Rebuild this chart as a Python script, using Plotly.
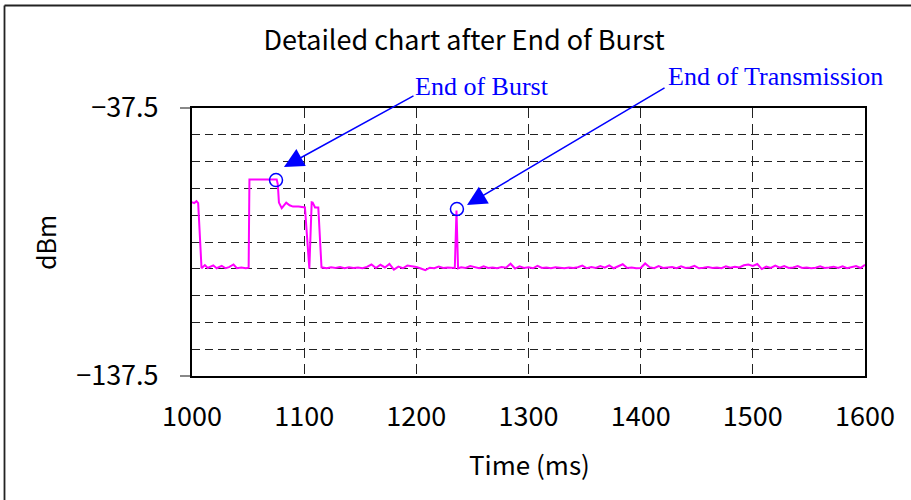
import plotly.graph_objects as go

# ---- data ----
burst_time = [1000, 1002, 1004, 1005.5, 1008.5, 1011.5, 1014, 1019, 1022, 1026.5, 1030, 1033, 1037, 1040,
              1044, 1048, 1050.5, 1051.2, 1060, 1070, 1075.5, 1076.5, 1077.5, 1080, 1084, 1087, 1090,
              1095, 1100.7, 1104.6, 1106.7, 1107.6, 1109.7, 1112.6, 1115.5]
burst_dbm = [-72.6, -73.0, -72.3, -73.0, -97.3, -96.1, -97.2, -96.2, -97.3, -96.4, -97.3, -96.9, -95.9, -97.3,
             -97.0, -97.3, -97.1, -64.2, -64.2, -64.2, -64.2, -66.0, -72.8, -74.9, -72.8, -73.8, -74.3,
             -74.3, -74.6, -97.5, -72.7, -72.8, -74.6, -74.6, -97.3]

floor1_time = list(range(1116, 1233, 4))
floor1_dbm = [-97.0, -97.3, -96.9, -97.2, -96.8, -97.3, -96.9, -97.2, -97.0, -97.3,
              -96.8, -95.9, -97.2, -96.0, -97.0, -95.7, -97.8, -96.7, -97.3, -96.3,
              -96.5, -96.8, -97.4, -98.0, -97.1, -97.3, -96.7, -97.2, -97.0, -97.3]

spike_time = [1234.3, 1235.8, 1237.2]
spike_dbm = [-97.2, -75.8, -97.3]

floor2_time = list(range(1240, 1601, 4))
floor2_dbm = [-96.9, -97.2, -96.5, -97.0, -97.3, -96.6, -97.2, -97.0, -97.3, -96.8,
              -97.1, -95.6, -97.4, -96.6, -97.2, -96.9, -97.3, -96.4, -97.2, -97.0,
              -97.3, -96.9, -97.1, -97.3, -97.0, -97.2, -96.9, -96.3, -97.3, -96.8,
              -97.2, -96.5, -97.1, -96.2, -97.3, -96.6, -95.8, -97.2, -97.0, -97.3,
              -97.2, -95.5, -96.9, -97.3, -96.5, -97.2, -97.0, -96.8, -97.3, -96.6,
              -97.2, -97.0, -96.4, -97.3, -97.1, -96.8, -97.2, -97.0, -97.3, -96.6,
              -97.1, -96.7, -97.0, -96.2, -95.9, -96.4, -95.7, -97.6, -96.7, -97.2,
              -96.3, -97.1, -96.5, -97.2, -97.0, -96.5, -97.2, -97.0, -97.3, -97.1,
              -96.6, -97.2, -97.0, -96.7, -97.2, -96.6, -97.3, -97.0, -96.5, -97.2,
              -96.0]

x_ticks = [1000, 1100, 1200, 1300, 1400, 1500, 1600]
y_tick_vals = [-137.5, -37.5]
y_tick_text = ["\u2212137.5", "\u221237.5"]

marker_points_time = [1074.9, 1236.2]
marker_points_dbm = [-64.4, -75.2]

time_ms = burst_time + floor1_time + spike_time + floor2_time
power_dbm = burst_dbm + floor1_dbm + spike_dbm + floor2_dbm

# ---- layout geometry (page body margin removed by post_script) ----
W, H = 911, 500
PL, PR, PT, PB = 192, 865, 108, 376        # plot area in pixels
L, T = PL, PT
R, B = W - PR, H - PB
PW, PH = PR - PL, PB - PT


def px(xp):
    return (xp - PL) / PW


def py(yp):
    return (PB - yp) / PH


AX_FONT = "Noto Sans CJK JP, Noto Sans, sans-serif"
ANN_FONT = "Liberation Serif, Times New Roman, serif"
BLUE = "#0000FF"

fig = go.Figure()
fig.add_trace(go.Scatter(x=time_ms, y=power_dbm, mode="lines",
                         line=dict(color="#FF00FF", width=2), showlegend=False,
                         hoverinfo="x+y"))

fig.update_layout(
    width=W, height=H,
    margin=dict(l=L, r=R, t=T, b=B),
    paper_bgcolor="white", plot_bgcolor="white",
    showlegend=False,
    title=dict(text="Detailed chart after End of Burst", x=464 / W, xanchor="center",
               y=1 - 41 / H, yanchor="middle",
               font=dict(family=AX_FONT, size=27, color="#000")),
)

fig.update_xaxes(
    range=[1000, 1600], tickvals=x_ticks, ticktext=[str(v) for v in x_ticks],
    showline=True, linecolor="#000", linewidth=2, mirror=True,
    showgrid=True, gridcolor="#222", gridwidth=1, griddash="10px,6px",
    ticks="", ticklabelstandoff=16, zeroline=False,
    tickfont=dict(family=AX_FONT, size=27, color="#000"),
)
fig.update_yaxes(
    range=[-137.5, -37.5], tickvals=y_tick_vals, ticktext=y_tick_text,
    showline=True, linecolor="#000", linewidth=2, mirror=True,
    showgrid=False, ticks="outside", ticklen=10, tickwidth=2, tickcolor="#888",
    ticklabelstandoff=16, zeroline=False,
    tickfont=dict(family=AX_FONT, size=27, color="#000"),
    minor=dict(tick0=-37.5, dtick=10, showgrid=True, gridcolor="#222", gridwidth=1,
               griddash="8px,5px", ticks=""),
)

# axis titles as annotations
fig.add_annotation(text="Time (ms)", xref="paper", yref="paper", x=px(529), y=py(463),
                   xanchor="center", yanchor="middle", showarrow=False,
                   font=dict(family=AX_FONT, size=26, color="#000"))
fig.add_annotation(text="dBm", xref="paper", yref="paper", x=px(45), y=py(243),
                   xanchor="center", yanchor="middle", showarrow=False, textangle=-90,
                   font=dict(family=AX_FONT, size=25, color="#000"))

# callout texts
fig.add_annotation(text="End of Burst", xref="paper", yref="paper", x=px(413), y=py(86),
                   xanchor="left", yanchor="middle", showarrow=False,
                   font=dict(family=ANN_FONT, size=26, color=BLUE))
fig.add_annotation(text="End of Transmission", xref="paper", yref="paper", x=px(666), y=py(77),
                   xanchor="left", yanchor="middle", showarrow=False,
                   font=dict(family=ANN_FONT, size=26, color=BLUE))

# arrows
fig.add_annotation(text="", x=1082.0, y=-59.5, xref="x", yref="y", ax=131, ay=-72,
                   showarrow=True, arrowhead=2, arrowsize=2.6, arrowwidth=1.5, arrowcolor=BLUE)
fig.add_annotation(text="", x=1245.2, y=-73.7, xref="x", yref="y", ax=199, ay=-118,
                   showarrow=True, arrowhead=2, arrowsize=2.6, arrowwidth=1.5, arrowcolor=BLUE)

# circles at event points
for cx, cy in zip(marker_points_time, marker_points_dbm):
    fig.add_shape(type="circle", xref="x", yref="y", xsizemode="pixel", ysizemode="pixel",
                  xanchor=cx, yanchor=cy, x0=-6.5, x1=6.5, y0=-6.5, y1=6.5,
                  line=dict(color=BLUE, width=1.5))

# outer frame (top and left edges visible)
fig.add_shape(type="line", xref="paper", yref="paper", x0=px(4.5), x1=px(925), y0=py(5.5), y1=py(5.5),
              line=dict(color="#222", width=1.8))
fig.add_shape(type="line", xref="paper", yref="paper", x0=px(4.5), x1=px(4.5), y0=py(5.5), y1=py(515),
              line=dict(color="#222", width=1.8))

fig.write_html("out.html", config={"displayModeBar": False},
               post_script="document.body.style.margin='0px';document.body.style.overflow='hidden';")
